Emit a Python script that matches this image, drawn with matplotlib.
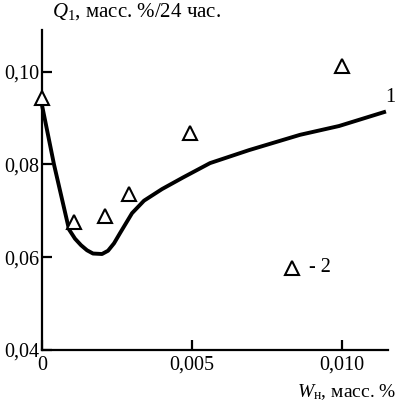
import matplotlib.pyplot as plt
from matplotlib.ticker import FixedLocator

plt.rcParams["font.family"] = ["Liberation Serif", "DejaVu Serif"]
plt.rcParams["mathtext.fontset"] = "custom"
plt.rcParams["mathtext.rm"] = "Liberation Serif"
plt.rcParams["mathtext.it"] = "Liberation Serif:italic"

# curve 1 (model)
curve_x = [0.0, 0.0004, 0.0009, 0.0011, 0.0013, 0.0015, 0.0017, 0.0020, 0.0022,
           0.0024, 0.0026, 0.0030, 0.0034, 0.0040, 0.0047, 0.0056, 0.0069,
           0.0086, 0.0099, 0.0114]
curve_y = [0.0928, 0.0800, 0.0660, 0.0640, 0.0626, 0.0615, 0.0608, 0.0607, 0.0614,
           0.0630, 0.0652, 0.0695, 0.0722, 0.0747, 0.0772, 0.0803, 0.0831,
           0.0864, 0.0883, 0.0913]

# points 2 (experiment)
pts_x = [0.0, 0.00107, 0.0021, 0.0029, 0.00493, 0.0100]
pts_y = [0.0943, 0.0676, 0.0689, 0.0736, 0.0868, 0.1012]

xticks = [0.0, 0.005, 0.010]
xlabels = ["0", "0,005", "0,010"]
yticks = [0.04, 0.06, 0.08, 0.10]
ylabels = ["0,04", "0,06", "0,08", "0,10"]

fig = plt.figure(figsize=(3.96, 4.04), dpi=100)
ax = fig.add_axes([42 / 396, 54 / 404, 346 / 396, 320 / 404])

ax.plot(curve_x, curve_y, color="black", lw=2.8, clip_on=False,
        solid_joinstyle="round")
ax.plot(pts_x, pts_y, ls="none", marker="^", ms=10.5, mfc="white", mec="black",
        mew=1.5, clip_on=False, zorder=3)

ax.set_xlim(0, 0.01153)
ax.set_ylim(0.04, 0.109)
for s in ("top", "right"):
    ax.spines[s].set_visible(False)
for s in ("left", "bottom"):
    ax.spines[s].set_linewidth(1.6)

ax.xaxis.set_major_locator(FixedLocator(xticks))
ax.yaxis.set_major_locator(FixedLocator(yticks))
ax.set_xticklabels(xlabels)
ax.set_yticklabels(ylabels)
ax.tick_params(direction="in", length=7, width=1.6, labelsize=14.5, pad=4)
ax.tick_params(axis="y", pad=2)

# curve label and legend sample
ax.text(0.01145, 0.0925, "1", fontsize=14.5, ha="left", va="bottom")
ax.plot([0.00833], [0.0577], ls="none", marker="^", ms=10.5, mfc="white",
        mec="black", mew=1.5)
ax.text(0.0089, 0.0577, "- 2", fontsize=14.5, va="center", ha="left")

fig.text(52 / 396, 1 - 12 / 404, r"$Q_1$, масс. %/24 час.", fontsize=15,
         ha="left", va="center")
fig.text(1.0, 1 - 392 / 404, r"$W_{\mathrm{н}}$, масс. %", fontsize=14,
         ha="right", va="center")

fig.savefig("out.png", dpi=100)
